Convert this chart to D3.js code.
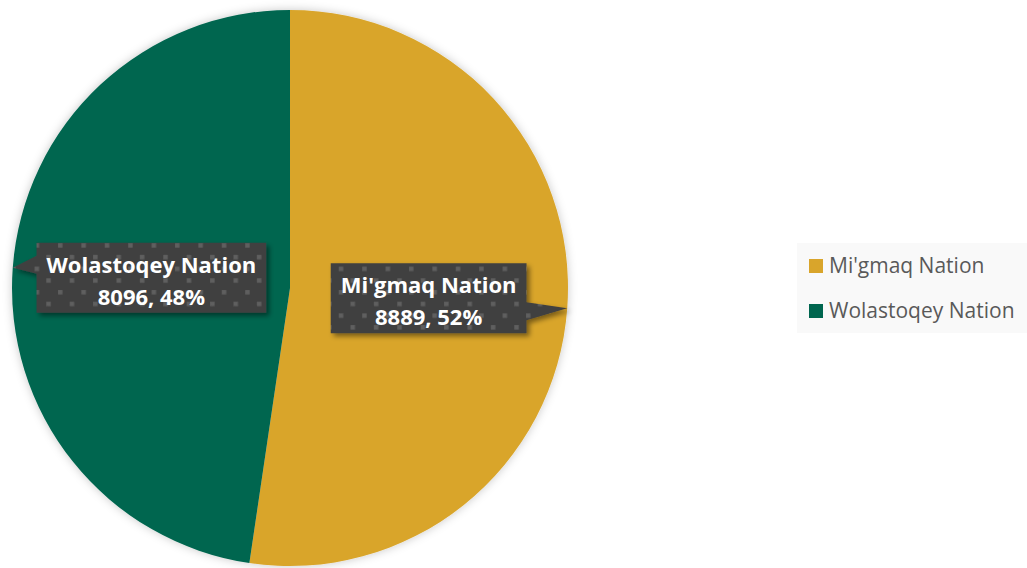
<!DOCTYPE html>
<html>
<head>
<meta charset="utf-8">
<script src="https://cdn.jsdelivr.net/npm/d3@7"></script>
<style>
  html, body { margin: 0; padding: 0; background: #ffffff; }
  svg { display: block; font-family: "Open Sans", "Noto Sans", sans-serif; }
</style>
</head>
<body>
<svg id="chart" width="1027" height="568"></svg>
<script>
// Population by nation
const nations = ["Mi'gmaq Nation", "Wolastoqey Nation"];
const counts = [8889, 8096];
const colors = ["#D9A52B", "#00664F"];

const W = 1027, H = 568;
const cx = 290, cy = 288, R = 278;

const svg = d3.select("#chart");
const defs = svg.append("defs");

// soft glow around the pie
const glow = defs.append("filter").attr("id", "pieGlow")
  .attr("x", "-10%").attr("y", "-10%").attr("width", "120%").attr("height", "120%");
glow.append("feDropShadow").attr("dx", 0).attr("dy", 0).attr("stdDeviation", 5)
  .attr("flood-color", "#000").attr("flood-opacity", 0.22);

// label box shadow
const shadow = defs.append("filter").attr("id", "boxShadow")
  .attr("x", "-20%").attr("y", "-30%").attr("width", "140%").attr("height", "160%");
shadow.append("feDropShadow").attr("dx", 3).attr("dy", 3).attr("stdDeviation", 2.5)
  .attr("flood-color", "#000").attr("flood-opacity", 0.45);

// dotted-grid fill for the labels
const T = 23.4;
const pat = defs.append("pattern").attr("id", "dotGrid")
  .attr("patternUnits", "userSpaceOnUse").attr("width", T).attr("height", T);
pat.append("rect").attr("width", T).attr("height", T).attr("fill", "#404040");
pat.append("rect").attr("x", 2).attr("y", 2).attr("width", 4.5).attr("height", 4.5).attr("fill", "#5E5E5E");
pat.append("rect").attr("x", 2 + T / 2).attr("y", 2 + T / 2).attr("width", 4.5).attr("height", 4.5).attr("fill", "#5E5E5E");

const data = nations.map((n, i) => ({ name: n, value: counts[i], color: colors[i] }));
const total = d3.sum(counts);

const pie = d3.pie().value(d => d.value).sort(null);
const arcs = pie(data);
const arc = d3.arc().innerRadius(0).outerRadius(R);

const g = svg.append("g").attr("transform", `translate(${cx},${cy})`);

g.append("g").attr("filter", "url(#pieGlow)")
  .selectAll("path").data(arcs).join("path")
  .attr("d", arc)
  .attr("fill", d => d.data.color);

// callout labels
const pct = d3.format(".0%");
const fs = 22, lineGap = 32, padX = 10, boxH = 70;

arcs.forEach((a) => {
  const mid = (a.startAngle + a.endAngle) / 2;
  const tip = [R * Math.sin(mid), -R * Math.cos(mid)];
  const ctr = [R / 2 * Math.sin(mid), -R / 2 * Math.cos(mid)];

  const lg = g.append("g").attr("filter", "url(#boxShadow)");
  const shape = lg.append("path").attr("fill", "url(#dotGrid)");

  const lines = [a.data.name, `${a.data.value}, ${pct(a.data.value / total)}`];
  const txt = g.append("g");
  const widths = lines.map((t, i) => {
    const el = txt.append("text")
      .attr("x", ctr[0])
      .attr("y", ctr[1] - lineGap / 2 + 11 + i * lineGap)
      .attr("text-anchor", "middle")
      .attr("font-size", fs).attr("font-weight", 700)
      .attr("fill", "#ffffff")
      .text(t);
    return el.node().getComputedTextLength();
  });
  const bw = d3.max(widths) + padX * 2;
  const x0 = ctr[0] - bw / 2, x1 = ctr[0] + bw / 2;
  const y0 = ctr[1] - boxH / 2, y1 = ctr[1] + boxH / 2;

  // box with a pointer running out to the slice edge
  let p;
  if (tip[0] > x1) {
    const b0 = tip[1] - 6, b1 = tip[1] + 12;
    p = [[x0, y0], [x1, y0], [x1, b0], tip, [x1, b1], [x1, y1], [x0, y1]];
  } else {
    const b0 = tip[1] - 12, b1 = tip[1] + 6;
    p = [[x0, y0], [x1, y0], [x1, y1], [x0, y1], [x0, b1], tip, [x0, b0]];
  }
  shape.attr("d", d3.line()(p) + "Z");
});

// legend
const lgX = 797, lgY = 243;
const legend = svg.append("g");
legend.append("rect").attr("x", lgX).attr("y", lgY).attr("width", W - lgX).attr("height", 90)
  .attr("fill", "#F9F9F9");
const rows = legend.selectAll("g.row").data(data).join("g").attr("class", "row")
  .attr("transform", (d, i) => `translate(${lgX + 12},${lgY + 16 + i * 45})`);
rows.append("rect").attr("width", 14).attr("height", 14).attr("fill", d => d.color);
rows.append("text").attr("x", 20).attr("y", 14)
  .attr("font-size", 21).attr("fill", "#595959")
  .text(d => d.name);
</script>
</body>
</html>
